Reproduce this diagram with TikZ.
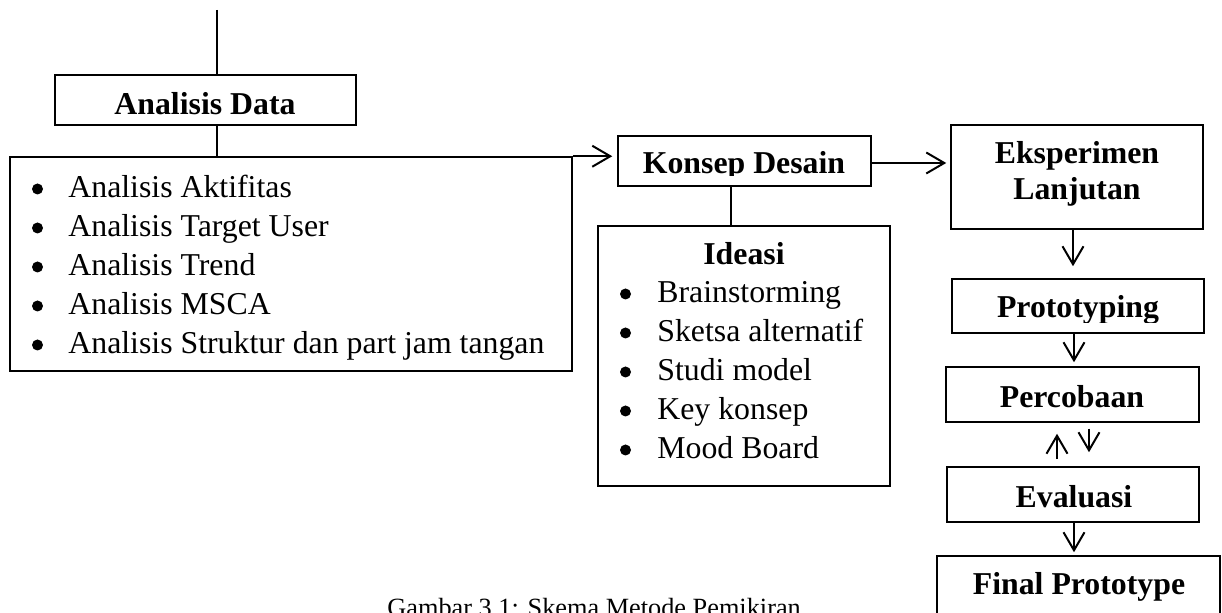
\documentclass[tikz,border=0pt]{standalone}
\usepackage{fontspec}
\setmainfont{Liberation Serif}
\usetikzlibrary{arrows.meta,fit}
\begin{document}
\begin{tikzpicture}[x=0.5pt,y=-0.5pt,
  box/.style={draw, line width=0.75pt, inner sep=0pt},
  conn/.style={line width=1pt},
  arr/.style={conn, -{Straight Barb[length=9pt,width=10.5pt]}},
  head/.style={font=\fontsize{15.9}{19}\selectfont\bfseries, inner sep=0pt, anchor=base},
  item/.style={font=\fontsize{15.9}{19}\selectfont, inner sep=0pt, anchor=base west},
  dot/.style={fill, circle, inner sep=0pt, minimum size=5.5pt}]
\useasboundingbox (0,0) rectangle (1222,613);
\clip (0,0) rectangle (1222,613);

% --- left column: data analysis ---
\coordinate (top) at (217,10);
\node[box, fit={(55,75) (356,125)}] (ad) {};
\node[head] (adt) at (205,115) {Analisis Data};
\node[box, fit={(10,157) (572,371)}] (adl) {};
\foreach \t [count=\k from 0] in {Analisis Aktifitas, Analisis Target User, Analisis Trend, Analisis MSCA, Analisis Struktur dan part jam tangan}{
  \node[dot] (adb\k) at (37.5,{189+39*\k}) {};
  \node[item] (adi\k) at (68,{198+39*\k}) {\t};
}

% --- middle column: design concept and ideation ---
\node[box, fit={(618,136) (871,186)}] (kd) {};
\begin{scope}
  \clip (618,136) rectangle (871,176);
  \node[head] (kdt) at (744,174) {Konsep Desain};
\end{scope}
\node[box, fit={(598,226) (890,486)}] (id) {};
\node[head] (idt) at (744,265) {Ideasi};
\foreach \t [count=\k from 0] in {Brainstorming, Sketsa alternatif, Studi model, Key konsep, Mood Board}{
  \node[dot] (idb\k) at (625.5,{294+39*\k}) {};
  \node[item] (idi\k) at (657,{303+39*\k}) {\t};
}

% --- right column: experiment chain ---
\node[box, fit={(951,125) (1203,229)}] (ek) {};
\node[head] (ekt1) at (1077,164) {Eksperimen};
\node[head] (ekt2) at (1077,200) {Lanjutan};
\node[box, fit={(952,279) (1204,333)}] (pt) {};
\begin{scope}
  \clip (952,279) rectangle (1204,323);
  \node[head] (ptt) at (1078,318) {Prototyping};
\end{scope}
\node[box, fit={(946,367) (1199,422)}] (pc) {};
\node[head] (pct) at (1072,408) {Percobaan};
\node[box, fit={(947,467) (1199,522)}] (ev) {};
\node[head] (evt) at (1074,508) {Evaluasi};
\node[box, fit={(937,556) (1220,680)}] (fp) {};
\node[head] (fpt) at (1079,595) {Final Prototype};

\node[item, font=\fontsize{13.15}{15}\selectfont] (cap) at (387,617) {Gambar 3.1: Skema Metode Pemikiran};

% --- connectors ---
\coordinate (c1) at (1073,0);
\coordinate (c2) at (1057,0);
\coordinate (c3) at (1089,0);
\draw[conn] (top) -- (top |- ad.north);
\draw[conn] (ad.south -| top) -- (adl.north -| top);
\draw[arr, shorten >=2.5pt] (adl.north east) -- (adl.north east -| kd.west);
\draw[arr, shorten >=2pt] (kd.east |- 0,163) -- (ek.west |- 0,163);
\draw[conn] (kd.south -| 731,0) -- (id.north -| 731,0);
\draw[arr, shorten >=6pt] (ek.south -| c1) -- (pt.north -| c1);
\draw[arr, shorten >=2pt] (pt.south -| 1074,0) -- (pc.north -| 1074,0);
\draw[arr, shorten <=3.5pt, shorten >=5.5pt] (ev.north -| c2) -- (pc.south -| c2);
\draw[arr, shorten <=3pt, shorten >=7pt] (pc.south -| c3) -- (ev.north -| c3);
\draw[arr, shorten >=1.5pt] (ev.south -| 1074,0) -- (fp.north -| 1074,0);
\end{tikzpicture}
\end{document}
